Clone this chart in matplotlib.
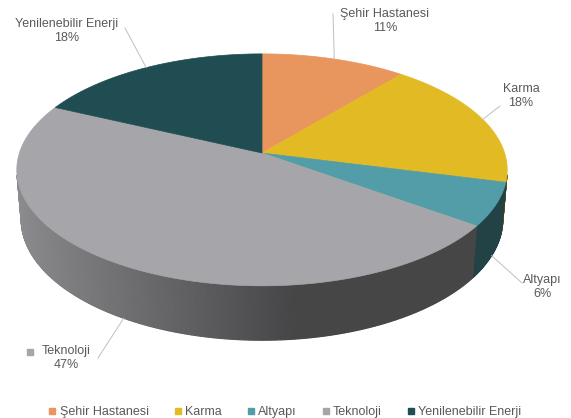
import numpy as np
import matplotlib.pyplot as plt
from matplotlib.colors import to_rgb
from matplotlib.collections import PolyCollection
from matplotlib.lines import Line2D

plt.rcParams['font.family'] = ['Liberation Sans', 'DejaVu Sans']

# Portfolio split by sector (%)
categories = ['Şehir Hastanesi', 'Karma', 'Altyapı', 'Teknoloji', 'Yenilenebilir Enerji']
shares = [11, 18, 6, 47, 18]
colors = ['#E8955E', '#E2BB24', '#529DA7', '#A6A6AA', '#1F4D52']
text_color = '#595959'

# label block centres and where their leader lines start (pixels)
label_xy = [(385, 21), (521, 96), (542, 287), (66, 358), (67, 31)]
leader_xy = [(333, 14), (500, 106), (522, 283), (98, 358), (125, 28)]

# perspective camera for the tilted disc
W, H = 571, 418
cx, cy = 262, 153
elev = np.radians(27.9)
dist = 6.08
focal = 1475
thick = 0.2325


def project(a, z=0.0):
    x, y = np.sin(a), np.cos(a)
    d = dist + y * np.cos(elev) - z * np.sin(elev)
    return cx + focal * x / d, cy - focal * (y * np.sin(elev) + z * np.cos(elev)) / d


def shade(a):
    lx, ly = -0.994, -0.11
    return 0.42 + 0.42 * max(0.0, np.sin(a) * lx + np.cos(a) * ly)


fig = plt.figure(figsize=(W / 100, H / 100), dpi=100)
ax = fig.add_axes([0, 0, 1, 1])
ax.set_xlim(0, W)
ax.set_ylim(H, 0)
ax.axis('off')

bounds = np.concatenate([[0], np.cumsum(shares)]) / sum(shares) * 2 * np.pi
mids = (bounds[:-1] + bounds[1:]) / 2
facing = -1 / (dist * np.cos(elev))

# outer wall, only the part turned towards the viewer
quads, qcols = [], []
for k, col in enumerate(colors):
    a = np.linspace(bounds[k], bounds[k + 1], max(3, int(np.degrees(bounds[k + 1] - bounds[k]) * 2)))
    base = np.array(to_rgb(col))
    for a0, a1 in zip(a[:-1], a[1:]):
        am = (a0 + a1) / 2
        if np.cos(am) >= facing:
            continue
        x0, y0 = project(a0)
        x1, y1 = project(a1)
        x2, y2 = project(a1, -thick)
        x3, y3 = project(a0, -thick)
        quads.append([(x0, y0), (x1, y1), (x2, y2), (x3, y3)])
        qcols.append(np.clip(base * shade(am), 0, 1))
ax.add_collection(PolyCollection(quads, facecolors=qcols, edgecolors=qcols, linewidths=0.8))

# top face slices
for k, col in enumerate(colors):
    a = np.linspace(bounds[k], bounds[k + 1], 200)
    xs, ys = project(a)
    ax.fill(np.r_[cx, xs], np.r_[cy, ys], facecolor=col, edgecolor=col, linewidth=0.5)

# data labels with leader lines
for k, name in enumerate(categories):
    z = -thick if np.cos(mids[k]) < 0 else 0.0
    ex, ey = project(mids[k], z)
    sx, sy = leader_xy[k]
    ax.plot([sx, ex], [sy, ey], color='#BFBFBF', linewidth=0.7)
    lx, ly = label_xy[k]
    ax.text(lx, ly, f'{name}\n{shares[k]}%', ha='center', va='center',
            fontsize=9, color=text_color, linespacing=1.2)
ax.plot(30, 352, marker='s', markersize=4, color=colors[3], linestyle='none')

handles = [Line2D([], [], marker='s', markersize=4.5, color=c, linestyle='none') for c in colors]
fig.legend(handles, categories, loc='center', bbox_to_anchor=(285 / W, 6 / H), ncol=5,
           frameon=False, fontsize=9, labelcolor=text_color, handlelength=0.6,
           handletextpad=0.3, columnspacing=2.0)

fig.savefig('out.png', dpi=100)
